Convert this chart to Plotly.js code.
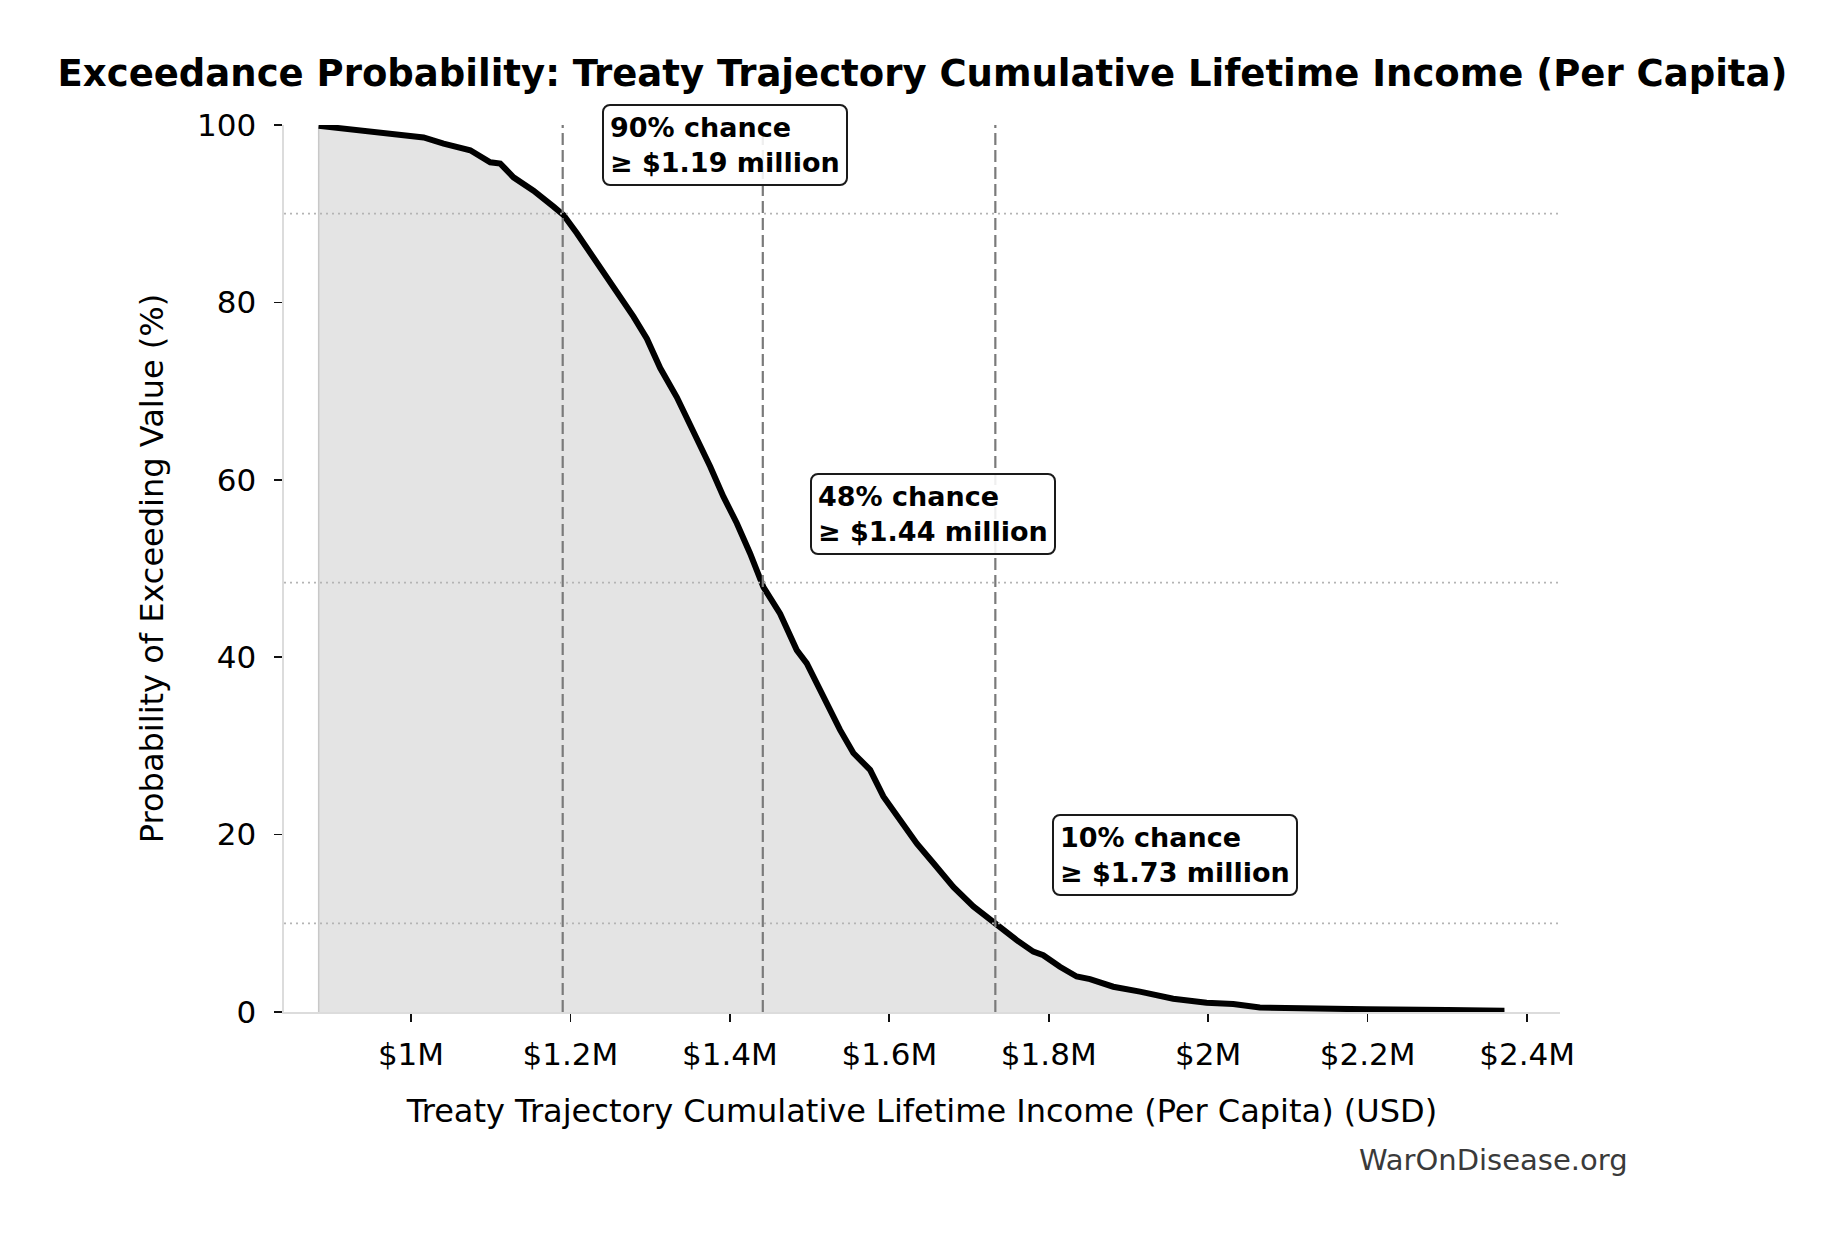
<!DOCTYPE html>
<html>
<head>
<meta charset="utf-8">
<script src="https://cdn.plot.ly/plotly-3.0.1.min.js"></script>
<style>
  html, body { margin: 0; padding: 0; background: #fff; }
  #chart { width: 1845px; height: 1233px; }
</style>
</head>
<body>
<div id="chart"></div>
<script>
// ---- Data ----
const incomeUSD = [
  884200, 911400, 944800, 982400, 1015800, 1040900, 1074300, 1099400, 1112000, 1128600,
  1153700, 1178800, 1191300, 1208100, 1228900, 1254000, 1279100, 1295900, 1312600, 1333500,
  1354300, 1375300, 1391900, 1408700, 1425400, 1442100, 1463000, 1483900, 1496500, 1517300,
  1538200, 1554900, 1575900, 1592500, 1613500, 1634400, 1655200, 1680300, 1705400, 1733400,
  1759800, 1780600, 1793100, 1814000, 1835000, 1851700, 1880900, 1914400, 1956100, 1998000,
  2031400, 2064800, 2115000, 2199000, 2300000, 2371600
];
const exceedPct = [
  99.9, 99.6, 99.3, 98.95, 98.6, 97.9, 97.15, 95.8, 95.65, 94.1,
  92.6, 90.8, 89.85, 87.8, 85.1, 81.9, 78.4, 75.9, 72.6, 69.3,
  65.6, 61.5, 58.1, 55.1, 51.7, 47.9, 44.9, 40.8, 39.3, 35.5,
  31.8, 29.2, 27.3, 24.3, 21.6, 19.0, 16.8, 14.1, 11.9, 9.9,
  8.1, 6.8, 6.4, 5.1, 4.0, 3.7, 2.85, 2.3, 1.5, 1.05,
  0.9, 0.5, 0.37, 0.3, 0.22, 0.15
];
const markerValuesUSD = [1190300, 1441300, 1733000];
const markerPcts = [90, 48.4, 10];

const xTickVals = [1000000, 1200000, 1400000, 1600000, 1800000, 2000000, 2200000, 2400000];
const xTickText = ['$1M', '$1.2M', '$1.4M', '$1.6M', '$1.8M', '$2M', '$2.2M', '$2.4M'];
const yTickVals = [0, 20, 40, 60, 80, 100];

const titleText = 'Exceedance Probability: Treaty Trajectory Cumulative Lifetime Income (Per Capita)';
const xTitleText = 'Treaty Trajectory Cumulative Lifetime Income (Per Capita) (USD)';
const yTitleText = 'Probability of Exceeding Value (%)';
const watermarkText = 'WarOnDisease.org';

// ---- Traces ----
const FONT = 'DejaVu Sans, Verdana, sans-serif';

const fillTrace = {
  x: [incomeUSD[0]].concat(incomeUSD),
  y: [0].concat(exceedPct),
  type: 'scatter', mode: 'lines',
  fill: 'tozeroy', fillcolor: '#e4e4e4',
  line: { color: '#c8c8c8', width: 1.5 },
  hoverinfo: 'skip', showlegend: false
};
const curveTrace = {
  x: incomeUSD, y: exceedPct,
  type: 'scatter', mode: 'lines',
  line: { color: '#000000', width: 6 },
  showlegend: false
};

// ---- Shapes: reference lines ----
const shapes = [];
markerValuesUSD.forEach(v => {
  shapes.push({
    type: 'line', xref: 'x', yref: 'paper', x0: v, x1: v, y0: 0, y1: 1,
    line: { color: '#7a7a7a', width: 2.2, dash: '12px,5px' }, layer: 'above'
  });
});
markerPcts.forEach(p => {
  shapes.push({
    type: 'line', xref: 'paper', yref: 'y', x0: 0, x1: 1, y0: p, y1: p,
    line: { color: '#b4b4b4', width: 1.8, dash: '2px,4px' }, layer: 'above'
  });
});

// ---- Annotations ----
const annotations = markerValuesUSD.map((v, i) => ({
  xref: 'x', yref: 'y',
  x: v * 1.041, y: markerPcts[i] + 7.7,
  xanchor: 'left', yanchor: 'middle', align: 'left',
  showarrow: false,
  text: '<b>' + Math.round(markerPcts[i]) + '% chance<br>≥ $' + (v / 1e6).toFixed(2) + ' million</b>',
  font: { family: FONT, size: 27, color: '#000' },
  bgcolor: 'rgba(255,255,255,0.88)',
  bordercolor: '#1a1a1a', borderwidth: 2, borderpad: 6
}));
annotations.push({
  xref: 'paper', yref: 'paper', x: 1.0545, y: -0.1669,
  xanchor: 'right', yanchor: 'middle', showarrow: false,
  text: watermarkText,
  font: { family: FONT, size: 29, color: '#3a3a3a' }
});

const layout = {
  width: 1845, height: 1233,
  paper_bgcolor: '#ffffff', plot_bgcolor: '#ffffff',
  margin: { l: 284, r: 285, t: 125, b: 221, pad: 0 },
  font: { family: FONT, size: 31, color: '#000' },
  title: {
    text: '<b>' + titleText + '</b>',
    font: { family: FONT, size: 37, color: '#000' },
    x: 0.5, xanchor: 'center', xref: 'container',
    y: 1 - 73 / 1233, yanchor: 'middle', yref: 'container'
  },
  xaxis: {
    range: [840700, 2441300],
    tickvals: xTickVals, ticktext: xTickText,
    showgrid: false, zeroline: false,
    showline: true, linecolor: '#dcdcdc', linewidth: 1.6, mirror: false,
    ticks: 'outside', ticklen: 8, tickwidth: 1.7, tickcolor: '#111',
    ticklabelstandoff: 6,
    tickfont: { family: FONT, size: 31, color: '#000' },
    title: { text: xTitleText, font: { family: FONT, size: 32, color: '#000' }, standoff: 29 },
    automargin: false
  },
  yaxis: {
    range: [0, 100],
    tickvals: yTickVals,
    showgrid: false, zeroline: false,
    showline: true, linecolor: '#dcdcdc', linewidth: 1.6, mirror: false,
    ticks: 'outside', ticklen: 8, tickwidth: 1.7, tickcolor: '#111',
    ticklabelstandoff: 12,
    tickfont: { family: FONT, size: 31, color: '#000' },
    title: { text: yTitleText, font: { family: FONT, size: 32, color: '#000' }, standoff: 24 },
    automargin: false
  },
  shapes: shapes,
  annotations: annotations,
  showlegend: false
};

Plotly.newPlot('chart', [fillTrace, curveTrace], layout, { displayModeBar: false, staticPlot: true })
  .then(() => {
    document.querySelectorAll('.annotation-text-g rect.bg').forEach(r => {
      r.setAttribute('rx', 7); r.setAttribute('ry', 7);
    });
  });
</script>
</body>
</html>
